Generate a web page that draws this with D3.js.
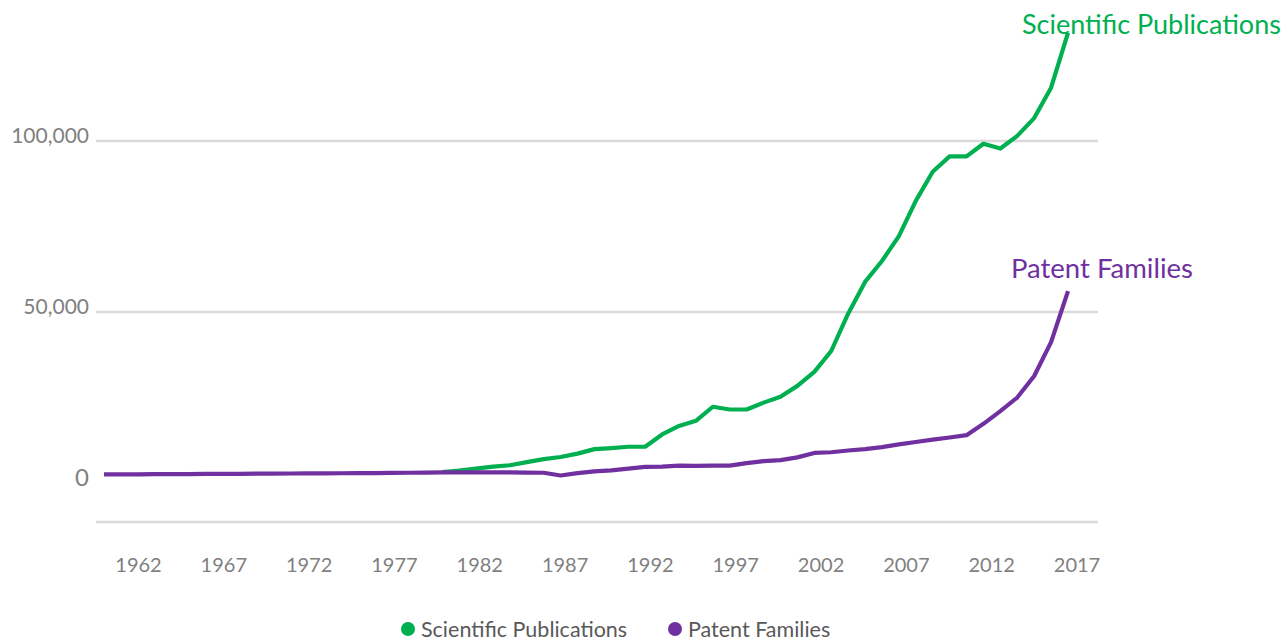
<!DOCTYPE html>
<html>
<head>
<meta charset="utf-8">
<script src="https://cdn.jsdelivr.net/npm/d3@7"></script>
<style>
  html, body { margin: 0; padding: 0; background: #ffffff; }
  svg { display: block; font-family: "Lato", "Open Sans", sans-serif; }
</style>
</head>
<body>
<svg id="chart" width="1284" height="641"></svg>
<script>
// ---- data ----
const years = d3.range(1960, 2018);
const publications = [
  null, null, null, null, null, null, null, null, null, null,
  null, null, null, null, null, null, null, null, null, null,
  3200, 3600, 4200, 4800, 5200, 6100, 7000, 7600, 8600, 9900,
  10200, 10600, 10600, 14200, 16700, 18200, 22300, 21500, 21500, 23500,
  25200, 28400, 32500, 38600, 49500, 58800, 64900, 72200, 82500, 91000,
  95500, 95500, 99200, 97800, 101500, 106700, 115600, 131600
];
const patents = [
  2500, 2520, 2550, 2580, 2600, 2620, 2650, 2680, 2700, 2730,
  2750, 2780, 2800, 2830, 2850, 2880, 2900, 2950, 3000, 3050,
  3100, 3100, 3100, 3100, 3100, 3050, 3000, 2200, 2900, 3400,
  3700, 4200, 4700, 4800, 5100, 5000, 5100, 5100, 5800, 6400,
  6700, 7500, 8800, 9000, 9500, 9900, 10500, 11300, 12000, 12700,
  13300, 14000, 17300, 21000, 25000, 31300, 41200, 56100
];
const seriesNames = ["Scientific Publications", "Patent Families"];
const seriesColors = ["#00B050", "#7030A0"];
const yTickValues = [0, 50000, 100000];
const gridValues = [50000, 100000];
const xTickLabels = ["1962", "1967", "1972", "1977", "1982", "1987", "1992", "1997", "2002", "2007", "2012", "2017"];

// ---- layout ----
const svg = d3.select("#chart");
const plotLeft = 96, plotRight = 1098, plotBottom = 522;

const x = d3.scaleLinear().domain([1960, 2017]).range([104, 1068]);
const y = d3.scaleLinear().domain([-11400, 100000]).range([plotBottom, 141]);
const xLabelScale = d3.scalePoint().domain(xTickLabels).range([138.5, 1077]);

// gridlines
svg.append("g").selectAll("line").data(gridValues).join("line")
  .attr("x1", plotLeft).attr("x2", plotRight)
  .attr("y1", d => y(d)).attr("y2", d => y(d))
  .attr("stroke", "#d9d9d9").attr("stroke-width", 2.5);

// bottom axis line
svg.append("line")
  .attr("x1", plotLeft).attr("x2", plotRight)
  .attr("y1", plotBottom).attr("y2", plotBottom)
  .attr("stroke", "#d9d9d9").attr("stroke-width", 2.5);

// y labels
svg.append("g").selectAll("text").data(yTickValues).join("text")
  .attr("x", 89).attr("y", d => y(d) - 7)
  .attr("text-anchor", "end").attr("dominant-baseline", "central")
  .attr("fill", "#808080").attr("font-size", d => d === 0 ? 24 : 21)
  .text(d => d3.format(",")(d));

// x labels
svg.append("g").selectAll("text").data(xTickLabels).join("text")
  .attr("x", d => xLabelScale(d)).attr("y", 564)
  .attr("text-anchor", "middle").attr("dominant-baseline", "central")
  .attr("fill", "#808080").attr("font-size", 20)
  .text(d => d);

// lines
const series = [publications, patents];
const line = d3.line()
  .defined(d => d.v !== null)
  .x(d => x(d.year)).y(d => y(d.v));

series.forEach((vals, i) => {
  const pts = years.map((yr, j) => ({ year: yr, v: vals[j] }));
  svg.append("path").datum(pts)
    .attr("d", line)
    .attr("fill", "none")
    .attr("stroke", seriesColors[i])
    .attr("stroke-width", 4.2)
    .attr("stroke-linejoin", "round");
});

// series end labels
const lastYear = years[years.length - 1];
svg.append("text")
  .attr("x", x(lastYear) - 46).attr("y", y(publications[publications.length - 1]) - 9)
  .attr("dominant-baseline", "central")
  .attr("fill", seriesColors[0]).attr("font-size", 27)
  .text(seriesNames[0]);
svg.append("text")
  .attr("x", x(lastYear) - 57).attr("y", y(patents[patents.length - 1]) - 24)
  .attr("dominant-baseline", "central")
  .attr("fill", seriesColors[1]).attr("font-size", 27.5)
  .text(seriesNames[1]);

// legend
const legend = svg.append("g");
const legendX = [408, 675];
seriesNames.forEach((name, i) => {
  legend.append("circle")
    .attr("cx", legendX[i]).attr("cy", 629).attr("r", 7)
    .attr("fill", seriesColors[i]);
  legend.append("text")
    .attr("x", legendX[i] + 13).attr("y", 629)
    .attr("dominant-baseline", "central")
    .attr("fill", "#595959").attr("font-size", 21.5)
    .text(name);
});
</script>
</body>
</html>
